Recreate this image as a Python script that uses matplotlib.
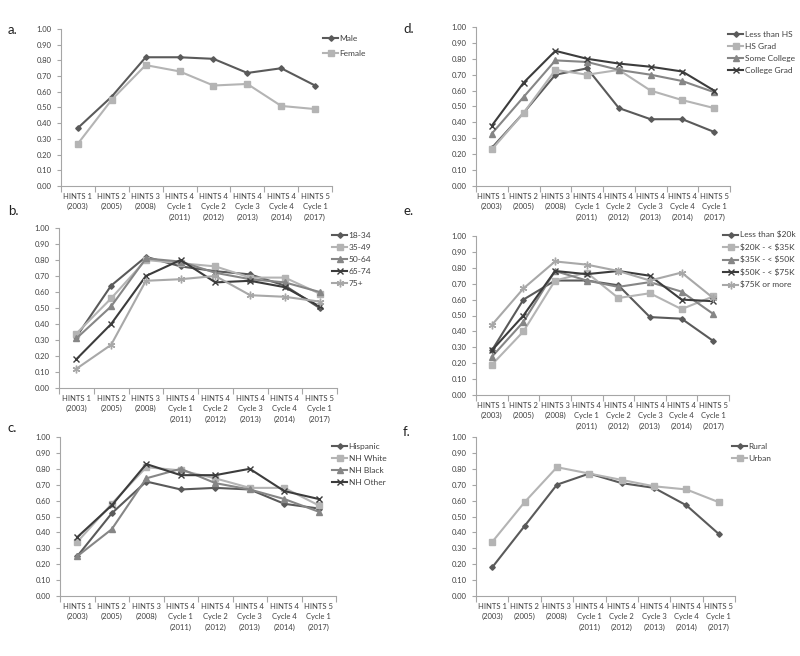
import matplotlib
matplotlib.use("Agg")
import matplotlib.pyplot as plt

plt.rcParams['font.family'] = ['Lato', 'DejaVu Sans']

categories = ["HINTS 1\n(2003)", "HINTS 2\n(2005)", "HINTS 3\n(2008)",
              "HINTS 4\nCycle 1\n(2011)", "HINTS 4\nCycle 2\n(2012)",
              "HINTS 4\nCycle 3\n(2013)", "HINTS 4\nCycle 4\n(2014)",
              "HINTS 5\nCycle 1\n(2017)"]

# a. sex
sex_labels = ["Male", "Female"]
male = [0.37, 0.57, 0.82, 0.82, 0.81, 0.72, 0.75, 0.64]
female = [0.27, 0.55, 0.77, 0.73, 0.64, 0.65, 0.51, 0.49]

# b. age
age_labels = ["18-34", "35-49", "50-64", "65-74", "75+"]
age_18_34 = [0.32, 0.64, 0.82, 0.76, 0.73, 0.71, 0.64, 0.50]
age_35_49 = [0.34, 0.56, 0.80, 0.78, 0.76, 0.69, 0.69, 0.59]
age_50_64 = [0.31, 0.51, 0.81, 0.79, 0.72, 0.68, 0.66, 0.60]
age_65_74 = [0.18, 0.40, 0.70, 0.80, 0.66, 0.67, 0.63, 0.51]
age_75 = [0.12, 0.27, 0.67, 0.68, 0.70, 0.58, 0.57, 0.54]

# c. race / ethnicity
race_labels = ["Hispanic", "NH White", "NH Black", "NH Other"]
hispanic = [0.25, 0.52, 0.72, 0.67, 0.68, 0.67, 0.58, 0.55]
nh_white = [0.34, 0.58, 0.81, 0.79, 0.74, 0.68, 0.68, 0.57]
nh_black = [0.25, 0.42, 0.74, 0.80, 0.71, 0.67, 0.61, 0.53]
nh_other = [0.37, 0.57, 0.83, 0.76, 0.76, 0.80, 0.66, 0.61]

# d. education
edu_labels = ["Less than HS", "HS Grad", "Some College", "College Grad"]
less_hs = [0.24, 0.46, 0.70, 0.74, 0.49, 0.42, 0.42, 0.34]
hs_grad = [0.23, 0.46, 0.73, 0.70, 0.73, 0.60, 0.54, 0.49]
some_college = [0.33, 0.56, 0.79, 0.78, 0.73, 0.70, 0.66, 0.59]
college_grad = [0.38, 0.65, 0.85, 0.80, 0.77, 0.75, 0.72, 0.60]

# e. income
inc_labels = ["Less than \\$20k", "\\$20K - < \\$35K", "\\$35K - < \\$50K",
              "\\$50K - < \\$75K", "\\$75K or more"]
inc_lt20 = [0.28, 0.60, 0.72, 0.72, 0.69, 0.49, 0.48, 0.34]
inc_20_35 = [0.19, 0.40, 0.72, 0.77, 0.61, 0.64, 0.54, 0.62]
inc_35_50 = [0.24, 0.46, 0.78, 0.72, 0.68, 0.71, 0.65, 0.51]
inc_50_75 = [0.28, 0.50, 0.78, 0.76, 0.78, 0.75, 0.60, 0.59]
inc_75 = [0.44, 0.67, 0.84, 0.82, 0.78, 0.72, 0.77, 0.61]

# f. rurality
rur_labels = ["Rural", "Urban"]
rural = [0.18, 0.44, 0.70, 0.77, 0.71, 0.68, 0.57, 0.39]
urban = [0.34, 0.59, 0.81, 0.77, 0.73, 0.69, 0.67, 0.59]

colors = ["#5a5a5a", "#b4b4b4", "#868686", "#3c3c3c", "#a8a8a8"]
markers = ["D", "s", "^", "x", (6, 2, 0)]
msizes = [2.8, 4.0, 4.0, 4.5, 5.5]
text_col = "#404040"
axis_col = "#a6a6a6"
tick_fs = 5.5

fig = plt.figure(figsize=(8, 6.56), dpi=100)
W, H = 800.0, 656.0


def px_axes(x0, y0, x1, y1):
    return fig.add_axes([x0 / W, 1 - y1 / H, (x1 - x0) / W, (y1 - y0) / H])


panels = [
    ("a.", (61, 29, 332, 186), [male, female], sex_labels, (323, 35), 0.95, (8, 30)),
    ("b.", (59, 228, 337, 388), [age_18_34, age_35_49, age_50_64, age_65_74, age_75],
     age_labels, (332, 232), 0.6, (8, 211)),
    ("c.", (60, 437, 336, 596), [hispanic, nh_white, nh_black, nh_other],
     race_labels, (332, 443), 0.6, (8, 428)),
    ("d.", (476, 27, 730, 186), [less_hs, hs_grad, some_college, college_grad],
     edu_labels, (728, 31), 0.6, (403, 29)),
    ("e.", (476, 236, 729, 395), [inc_lt20, inc_20_35, inc_35_50, inc_50_75, inc_75],
     inc_labels, (723, 231), 0.6, (403, 211)),
    ("f.", (476, 437, 735, 596), [rural, urban], rur_labels, (732, 443), 0.6, (403, 432)),
]

x = list(range(len(categories)))

for letter, box, series, labels, leg_xy, lspace, let_xy in panels:
    ax = px_axes(*box)
    for i, (vals, lab) in enumerate(zip(series, labels)):
        ax.plot(x, vals, color=colors[i], marker=markers[i], markersize=msizes[i],
                markeredgewidth=1.0, linewidth=1.5, label=lab)

    ax.set_xlim(-0.5, 7.5)
    ax.set_ylim(0, 1.0)
    ax.set_yticks([i / 10 for i in range(11)])
    ax.set_yticklabels([f"{i / 10:.2f}" for i in range(11)])
    ax.set_xticks([i - 0.5 for i in range(9)])
    ax.set_xticklabels([])
    ax.set_xticks(x, minor=True)
    ax.set_xticklabels(categories, minor=True)
    ax.tick_params(axis="x", which="major", length=4, color=axis_col)
    ax.tick_params(axis="x", which="minor", length=0, labelsize=tick_fs,
                   labelcolor=text_col, pad=5)
    ax.tick_params(axis="y", length=3, color=axis_col, labelsize=tick_fs,
                   labelcolor=text_col, pad=4)
    for lbl in ax.get_xticklabels(minor=True):
        lbl.set_linespacing(1.55)
    for s in ["top", "right"]:
        ax.spines[s].set_visible(False)
    for s in ["left", "bottom"]:
        ax.spines[s].set_color(axis_col)
        ax.spines[s].set_linewidth(0.8)

    ax.legend(loc="upper left", bbox_to_anchor=(leg_xy[0] / W, 1 - leg_xy[1] / H),
              bbox_transform=fig.transFigure, frameon=False, fontsize=6,
              handlelength=1.8, handletextpad=0.2, labelspacing=lspace,
              borderpad=0, borderaxespad=0, labelcolor=text_col)

    fig.text(let_xy[0] / W, 1 - let_xy[1] / H, letter, fontsize=9.5,
             color="#222222", ha="left", va="center")

fig.savefig("out.png", dpi=100)
